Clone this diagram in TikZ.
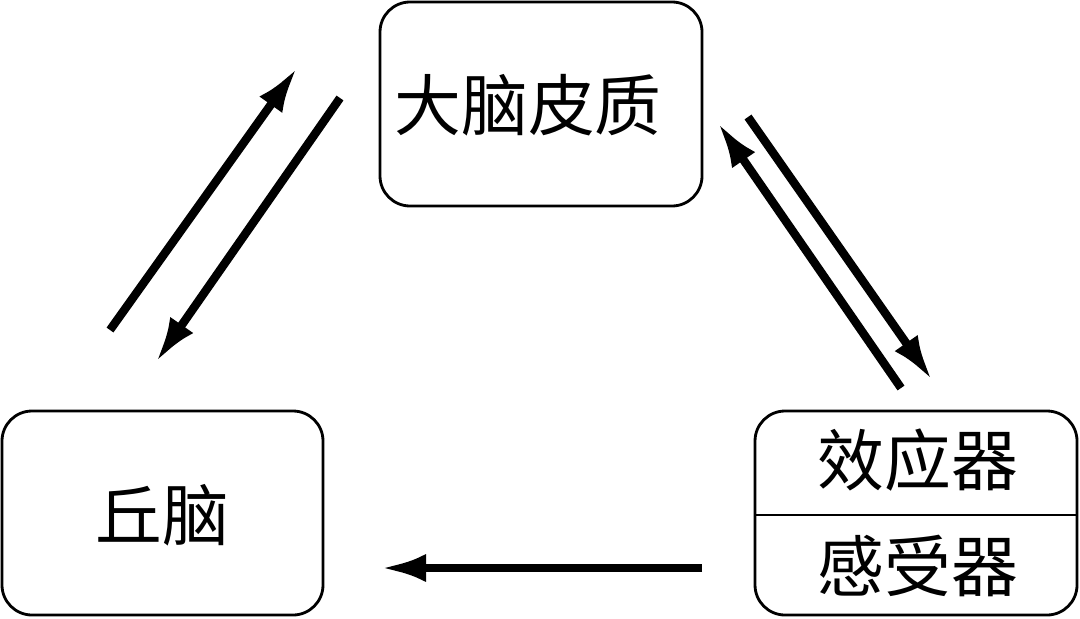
\documentclass[tikz,border=0pt]{standalone}
\usepackage{fontspec}
\newfontfamily\cjk{Noto Sans CJK SC}
\usetikzlibrary{arrows.meta}
\begin{document}
\begin{tikzpicture}[x=0.01cm,y=-0.01cm,
  box/.style={draw,line width=0.8pt,rounded corners=0.3cm},
  lbl/.style={font=\cjk\fontsize{19}{22}\selectfont},
  arr/.style={line width=2.4pt,-{Latex[length=0.45cm,width=0.28cm]}}]
\useasboundingbox (0,0) rectangle (1080,618);
\draw[box] (380,2) rectangle (702,206);
\node[lbl] (dn) at (528,105) {大脑皮质};
\draw[box] (2,411) rectangle (323,615);
\node[lbl] (qn) at (162,515) {丘脑};
\draw[box] (755,411) rectangle (1077,615);
\draw[line width=0.8pt] (755,515) -- (1077,515);
\node[lbl] (xy) at (918,460) {效应器};
\node[lbl] (gs) at (918,566) {感受器};
\coordinate (a1) at (110,330); \coordinate (b1) at (297,68);
\coordinate (a2) at (340,98); \coordinate (b2) at (156,362);
\coordinate (a3) at (901,388); \coordinate (b3) at (718,123);
\coordinate (a4) at (748,117); \coordinate (b4) at (932,380);
\coordinate (a5) at (702,568); \coordinate (b5) at (381,568);
\draw[arr] (a1) -- (b1);
\draw[arr] (a2) -- (b2);
\draw[arr] (a3) -- (b3);
\draw[arr] (a4) -- (b4);
\draw[arr] (a5) -- (b5);
\end{tikzpicture}
\end{document}
